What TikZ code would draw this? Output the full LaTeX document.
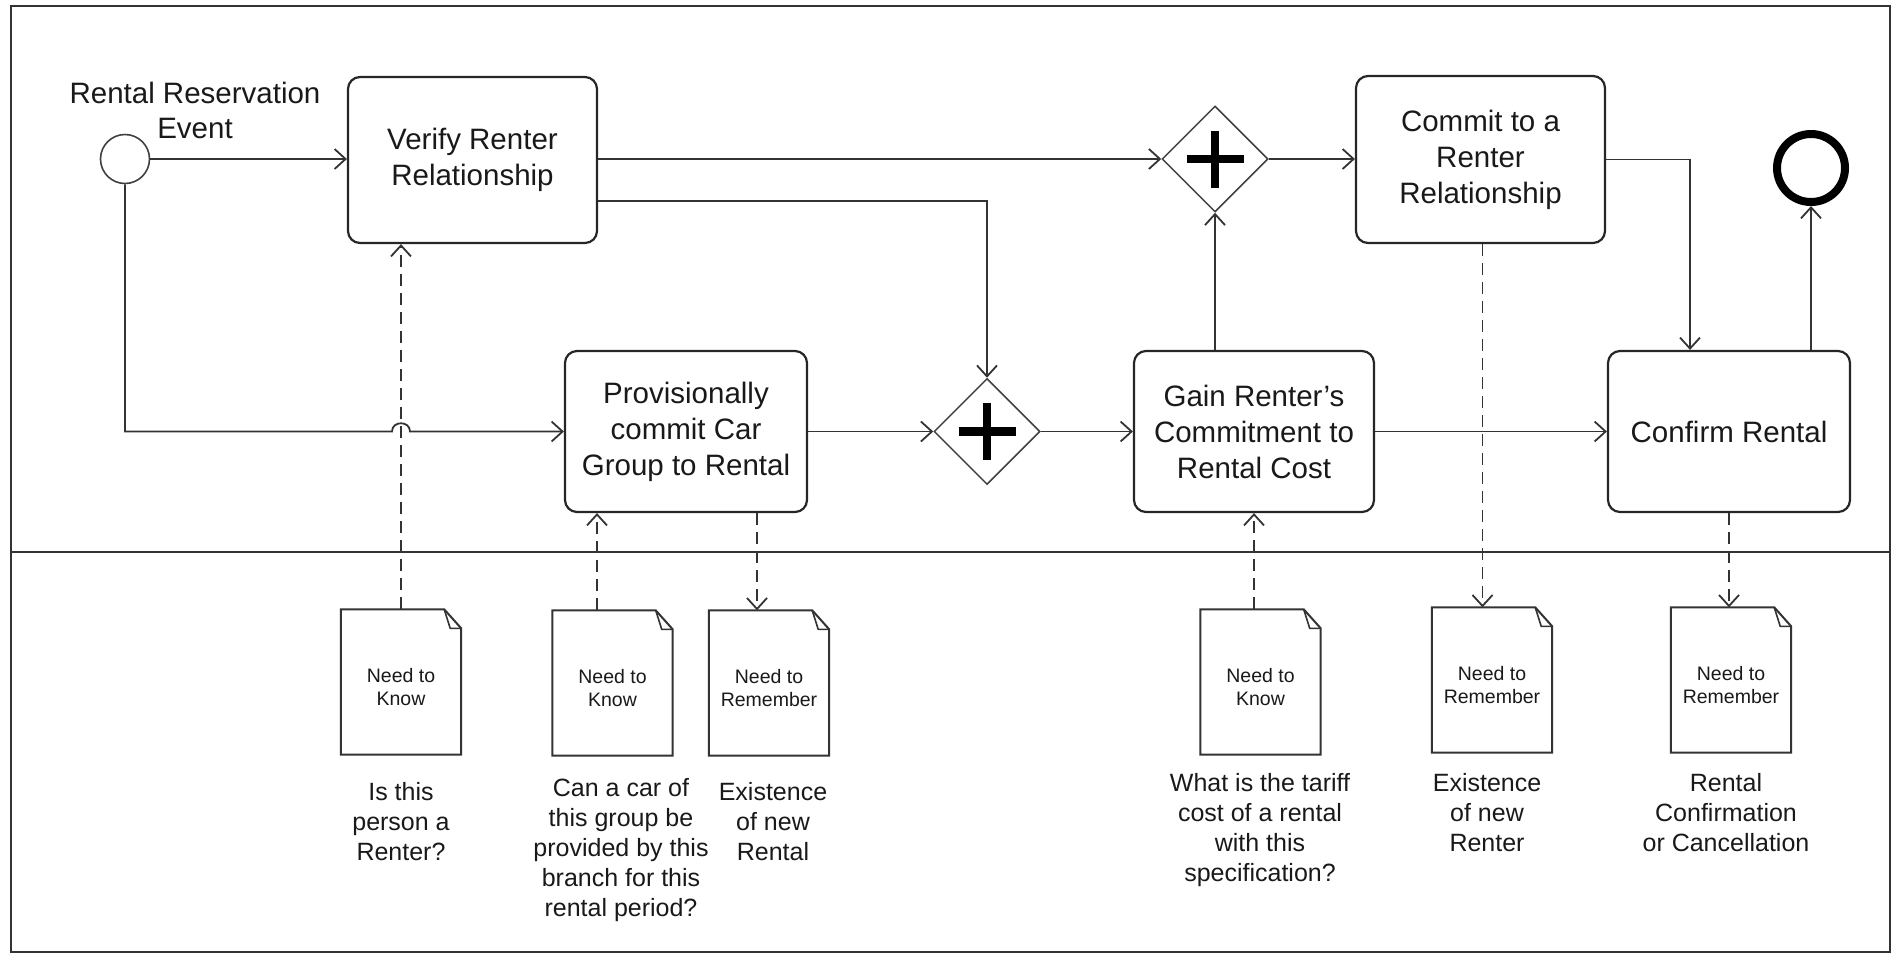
\documentclass[tikz,border=0pt]{standalone}
\usepackage{fontspec}
\setmainfont{Liberation Sans}
\usetikzlibrary{arrows.meta,shapes.geometric}
\begin{document}
\begin{tikzpicture}[x=1pt,y=-1pt,
  ln/.style={draw=black!80, line width=1.8pt},
  arr/.style={ln, -{Straight Barb[length=11pt,width=20pt]}},
  darr/.style={arr, dash pattern=on 12pt off 7pt},
  task/.style={draw=black!85, line width=2.2pt, rounded corners=12pt, align=center,
    font=\fontsize{29.5}{36}\selectfont, text=black!90, inner sep=0pt},
  gate/.style={diamond, draw=black!75, line width=1.5pt, minimum width=106pt,
    minimum height=106pt, inner sep=0pt},
  docbox/.style={minimum width=120pt, minimum height=145pt, inner sep=0pt},
  doctext/.style={align=center, inner sep=0pt,
    font=\fontsize{19.5}{23.5}\selectfont, text=black!90},
  docline/.style={draw=black!80, line width=2pt, line join=miter},
  lbl/.style={align=center, font=\fontsize{25}{30}\selectfont, text=black!90, inner sep=0pt},
]
\useasboundingbox (0,0) rectangle (1892,954);
% frame and lane divider
\draw[black!80, line width=2.5pt] (11,6) rectangle (1890,952);
\draw[black!80, line width=2.5pt] (11,552) -- (1890,552);

% events
\node[circle, draw=black!75, line width=1.6pt, minimum size=49pt, inner sep=0pt] (start) at (125,159) {};
\node[lbl, font=\fontsize{29.5}{35}\selectfont] (evlbl) at (195,110) {Rental Reservation\\Event};
\node[circle, draw=black, line width=8pt, minimum size=68pt, inner sep=0pt] (end) at (1811,168) {};

% tasks
\node[task, minimum width=249pt, minimum height=166pt] (verify) at (472.5,160) {Verify Renter\\Relationship};
\node[task, minimum width=249pt, minimum height=167pt] (commit) at (1480.5,159.5) {Commit to a\\Renter\\Relationship};
\node[task, minimum width=242pt, minimum height=161pt] (prov) at (686,431.5) {Provisionally\\commit Car\\Group to Rental};
\node[task, minimum width=240pt, minimum height=161pt] (gain) at (1254,431.5) {Gain Renter’s\\Commitment to\\Rental Cost};
\node[task, minimum width=242pt, minimum height=161pt] (confirm) at (1729,431.5) {Confirm Rental};

% gateways
\node[gate] (g1) at (1215,159) {};
\node[gate] (g2) at (987,431.5) {};
\foreach \g in {g1,g2}{
  \draw[black, line width=8.5pt] ([xshift=-28.5pt]\g.center) -- ([xshift=28.5pt]\g.center);
  \draw[black, line width=8.5pt] ([yshift=-28.5pt]\g.center) -- ([yshift=28.5pt]\g.center);
}

% data documents
\node[docbox] (d1) at (401,682) {};
\node[docbox] (d2) at (612.5,683) {};
\node[docbox] (d3) at (769,683) {};
\node[docbox] (d4) at (1260.5,682) {};
\node[docbox] (d5) at (1492,680) {};
\node[docbox] (d6) at (1731,680) {};
\foreach \d in {d1,d2,d3,d4,d5,d6}{
  \draw[docline] (\d.south west) -- (\d.north west) -- ([xshift=-17pt]\d.north east)
     -- ([yshift=-19pt]\d.north east) -- (\d.south east) -- cycle;
  \draw[docline, line width=1.6pt] ([xshift=-17pt]\d.north east) -- ([xshift=-11pt,yshift=-19pt]\d.north east)
     -- ([yshift=-19pt]\d.north east);
}
\node[doctext] (t1) at ([yshift=-5pt]d1.center) {Need to\\Know};
\node[doctext] (t2) at ([yshift=-5pt]d2.center) {Need to\\Know};
\node[doctext] (t3) at ([yshift=-5pt]d3.center) {Need to\\Remember};
\node[doctext] (t4) at ([yshift=-5pt]d4.center) {Need to\\Know};
\node[doctext] (t5) at ([yshift=-5pt]d5.center) {Need to\\Remember};
\node[doctext] (t6) at ([yshift=-5pt]d6.center) {Need to\\Remember};

% document labels
\node[lbl] (l1) at (401,822) {Is this\\person a\\Renter?};
\node[lbl] (l2) at (621,850) {Can a car of\\this group be\\provided by this\\branch for this\\rental period?};
\node[lbl] (l3) at (773,822) {Existence\\of new\\Rental};
\node[lbl] (l4) at (1260,830) {What is the tariff\\cost of a rental\\with this\\specification?};
\node[lbl] (l5) at (1487,813) {Existence\\of new\\Renter};
\node[lbl] (l6) at (1726,813) {Rental\\Confirmation\\or Cancellation};

% sequence flows
\draw[arr] (start.east) -- (verify.west |- start.east);
\draw[arr] (verify.east |- g1.west) -- (g1.west);
\draw[arr] ([yshift=-41pt]verify.east) -| (g2.north);
\coordinate (hopL) at ([xshift=-9pt]d1.north |- prov.west);
\coordinate (hopR) at ([xshift=9pt]d1.north |- prov.west);
\draw[arr] (start.south) -- (start.south |- prov.west) -- (hopL)
   .. controls ([yshift=11pt]hopL) and ([yshift=11pt]hopR) .. (hopR) -- (prov.west);
\draw[arr] (prov.east) -- (g2.west);
\draw[arr] (g2.east) -- (gain.west);
\draw[arr] (gain.east) -- (confirm.west);
\draw[arr] (g1.south |- gain.north) -- (g1.south);
\draw[arr] (g1.east) -- (commit.west |- g1.east);
\coordinate (cc) at (1690,159.5);
\draw[arr] (commit.east) -- (cc) -- (cc |- confirm.north);
\draw[arr] (end.south |- confirm.north) -- (end.south);

% data associations
\draw[darr] (d1.north) -- (d1.north |- verify.south);
\coordinate (d2t) at ([xshift=-15.5pt]d2.north);
\draw[darr] (d2t) -- (d2t |- prov.south);
\coordinate (p3) at ([xshift=71pt]prov.south);
\draw[darr] (p3) -- (p3 |- d3.north);
\coordinate (d4t) at ([xshift=-6.5pt]d4.north);
\draw[darr] (d4t) -- (d4t |- gain.south);
\coordinate (c5) at ([xshift=2pt]commit.south);
\draw[darr] (c5) -- (c5 |- d5.north);
\draw[darr] (confirm.south) -- (confirm.south |- d6.north);
\end{tikzpicture}
\end{document}
